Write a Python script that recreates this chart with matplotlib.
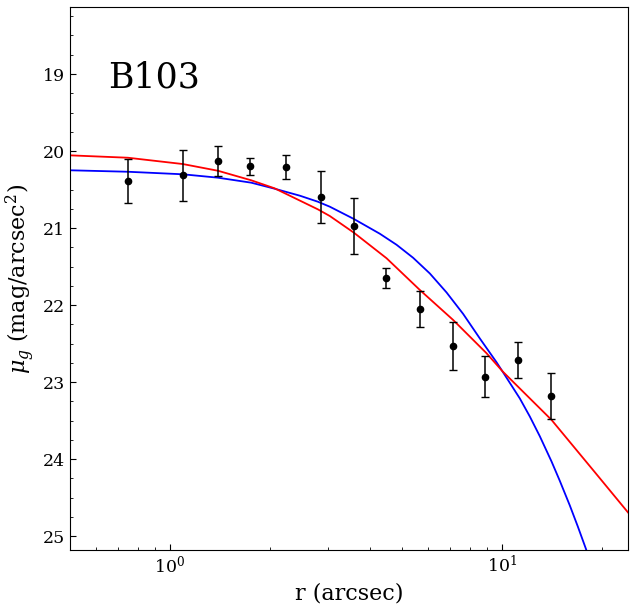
import matplotlib
matplotlib.use("Agg")
import matplotlib.pyplot as plt
from matplotlib.ticker import MultipleLocator

plt.rcParams['font.family'] = ['DejaVu Serif']
plt.rcParams['mathtext.fontset'] = 'dejavuserif'

# measured profile of B103
r_obs = [0.749, 1.097, 1.398, 1.746, 2.240, 2.844, 3.591, 4.473, 5.675, 7.133, 8.907, 11.2, 14.08]
mu_obs = [20.389, 20.315, 20.134, 20.199, 20.208, 20.601, 20.977, 21.648, 22.054, 22.534, 22.930, 22.716, 23.183]
mu_err = [0.287, 0.331, 0.195, 0.108, 0.156, 0.337, 0.363, 0.127, 0.234, 0.309, 0.264, 0.234, 0.298]

# red model curve
r_red = [0.5, 0.747, 1.094, 1.395, 1.758, 2.067, 2.791, 3.033, 3.583, 4.495, 5.663, 7.133,
         8.993, 10.07, 14.12, 19.06, 24.02]
mu_red = [20.056, 20.087, 20.169, 20.256, 20.380, 20.484, 20.757, 20.844, 21.060, 21.392, 21.804, 22.193,
          22.625, 22.864, 23.491, 24.169, 24.694]

# blue model curve
r_blue = [0.5, 0.747, 1.094, 1.395, 1.758, 2.067, 2.464, 2.791, 3.033, 3.583, 4.291, 4.818, 5.405,
          6.070, 6.815, 7.648, 8.585, 9.639, 10.07, 11.33, 12.146, 13.02, 14.12, 14.95, 16.03,
          16.94, 17.91, 19.06]
mu_blue = [20.250, 20.269, 20.302, 20.346, 20.411, 20.489, 20.580, 20.658, 20.723, 20.882, 21.074, 21.217, 21.386,
           21.590, 21.836, 22.115, 22.433, 22.742, 22.868, 23.212, 23.447, 23.704, 24.031, 24.281, 24.602,
           24.874, 25.161, 25.500]

fig = plt.figure(figsize=(6.34, 6.08), dpi=100)
ax = fig.add_axes([70/634, 1-550/608, 558/634, 543/608])

ax.plot(r_blue, mu_blue, color='blue', lw=1.3)
ax.plot(r_red, mu_red, color='red', lw=1.3)
ax.errorbar(r_obs, mu_obs, yerr=mu_err, fmt='o', color='black', ms=4.5,
            ecolor='black', elinewidth=1.1, capsize=3, capthick=1)

ax.set_xscale('log')
ax.set_xlim(0.5, 24.0)
ax.set_ylim(25.18, 18.13)
ax.yaxis.set_major_locator(MultipleLocator(1))
ax.yaxis.set_minor_locator(MultipleLocator(0.25))
ax.tick_params(which='both', direction='in', labelsize=12.5)
ax.tick_params(which='major', length=4)
ax.tick_params(which='minor', length=2.5)

ax.set_xlabel('r (arcsec)', fontsize=16)
ax.set_ylabel(r'$\mu_g$ (mag/arcsec$^2$)', fontsize=16)
ax.text(0.068, 0.851, 'B103', transform=ax.transAxes, fontsize=25, va='baseline')

fig.savefig('out.png', dpi=100)
